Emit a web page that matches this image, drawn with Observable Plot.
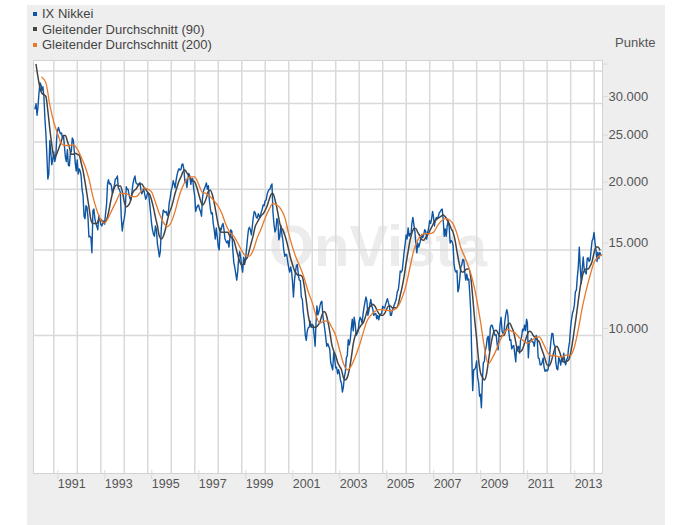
<!DOCTYPE html>
<html><head><meta charset="utf-8">
<script src="https://cdn.jsdelivr.net/npm/d3@7"></script>
<script src="https://cdn.jsdelivr.net/npm/@observablehq/plot@0.6"></script>
<style>
body{margin:0;background:#fff;font-family:"Liberation Sans",Arial,sans-serif;}
#wrap{position:relative;width:673px;height:525px;overflow:hidden}
#bg{position:absolute;left:27px;top:5px;width:638px;height:520px;background:#eeeeee;}
#legend{position:absolute;left:33px;top:6px;font-size:13px;color:#444;line-height:15.5px;}
.item{display:flex;align-items:center;white-space:nowrap}
.sw{width:4px;height:4px;margin-right:5px;display:inline-block}
#unit{position:absolute;left:615px;top:35px;font-size:13px;line-height:15px;color:#555}
#chart{position:absolute;left:0;top:0}
</style></head><body>
<div id="wrap"><div id="bg"></div><div id="chart"></div><div id="legend"></div><div id="unit">Punkte</div></div>
<script>
// Series names and colours
const seriesNames = ["IX Nikkei", "Gleitender Durchschnitt (90)", "Gleitender Durchschnitt (200)"];
const seriesColors = ["#0e56a4", "#444444", "#e8792b"];

// IX Nikkei: two readings per month (mid-month, month-end), starting March 1990
const nikkei = [
  29300,29980, 28400,29584, 31500,33131, 32800,31940, 32500,31035, 28000,25978, 23500,20983, 21500,25194, 23800,22454, 23000,23848,
  22800,23293, 25500,26409, 26800,26292, 26000,26111, 25500,25789, 24500,23290, 22800,24120, 22400,22335, 23800,23916, 25500,25222, 24000,22687, 21800,22983,
  21500,22023, 21800,21338, 20000,19345, 17600,17390, 18500,18348, 17500,15951, 16000,15910, 14800,18061, 18200,17399, 17000,16767, 16500,17684, 17400,16924,
  16800,17023, 17200,16953, 17800,18591, 20500,20919, 20500,20552, 20300,19590, 20000,20380, 21000,21027, 21300,20106, 20000,19703, 17500,16407, 17000,17417,
  18000,20229, 20000,19997, 19500,19111, 19000,19725, 20500,20974, 21300,20643, 20500,20449, 20500,20629, 20000,19564, 19800,19990, 19500,19076, 19300,19723,
  19500,18650, 17800,17053, 16500,16140, 16000,16807, 16500,15437, 15000,14517, 14900,16678, 17500,18117, 18000,17913, 18000,17655, 17800,18744, 19200,19868,
  20200,20813, 20500,20125, 20800,21407, 21800,22041, 21900,21956, 22500,22531, 22000,20693, 20900,20167, 21000,21556, 21300,20467, 21000,21020, 20000,19361,
  18000,18330, 18500,18557, 18200,18003, 17600,19151, 19800,20069, 20300,20605, 20000,20331, 19000,18229, 17800,17888, 17000,16459, 15800,16636, 16000,15259,
  15000,16628, 16500,16831, 17000,16527, 15800,15641, 15500,15671, 15200,15830, 16500,16379, 15000,14108, 13800,13406, 13000,13564, 14500,14884, 14500,13842,
  13500,14499, 14000,14367, 15000,15837, 16500,16701, 16500,16112, 16800,17530, 18000,17862, 17500,17437, 17800,17605, 17500,17942, 18200,18558, 18500,18934,
  19000,19540, 19800,19960, 20000,20337, 20500,17974, 17000,16332, 16500,17411, 17200,15727, 16000,16861, 16200,15747, 15000,14539, 14700,14649, 14200,13786,
  13500,13843, 13500,12884, 12000,12999, 13500,13934, 14000,13262, 13000,12969, 12000,11861, 11200,10713, 10000,9774, 10200,10366, 10400,10697, 10400,10543,
  10500,9997, 9500,10587, 11500,11025, 11200,11493, 11700,11764, 11000,10622, 10300,9877, 9500,9619, 9500,9383, 8800,8640, 8500,9216, 9000,8579,
  8600,8340, 8500,8363, 8100,7973, 7650,7831, 8200,8425, 9000,9083, 9800,9563, 9800,10344, 10800,10219, 10900,10560, 10000,10101, 10200,10677,
  10900,10784, 10600,11042, 11400,11715, 12000,11762, 11000,11236, 11600,11859, 11500,11326, 11000,11082, 11100,10824, 11000,10771, 11000,11069, 11100,11489,
  11400,11388, 11600,11741, 11900,11669, 11500,11009, 11000,11277, 11400,11584, 11700,11900, 12300,12414, 12900,13574, 13500,13607, 14200,14872, 15400,16111,
  15800,16650, 16000,16205, 16100,17060, 17500,16906, 16400,15467, 14800,15505, 15200,15457, 15800,16141, 15900,16128, 16500,16399, 15800,16274, 16600,17226,
  17000,17383, 18000,17604, 16800,17288, 17500,17400, 17600,17876, 18000,18138, 18200,17248, 16000,16569, 16000,16786, 17200,16737, 15500,15681, 15600,15308,
  14000,13592, 13500,13603, 12300,12526, 13200,13850, 14000,14339, 14300,13481, 13000,13377, 13000,13073, 12200,11260, 9200,7700, 8500,8512, 8600,8860,
  8200,7994, 7500,7568, 7100,8110, 8800,8828, 9300,9523, 9900,9958, 9300,10357, 10500,10493, 10300,10133, 10000,10034, 9600,9346, 10000,10546,
  10900,10198, 10100,10126, 10700,11090, 11300,11057, 10200,9769, 9800,9383, 9500,9537, 9200,8824, 9500,9369, 9500,9202, 9800,9937, 10300,10229,
  10500,10238, 10800,10624, 9000,9755, 9700,9849, 9700,9694, 9500,9816, 10000,9833, 9000,8955, 8700,8700, 8800,8988, 8600,8435, 8500,8455,
  8500,8803, 9300,9723, 10100,10084, 9600,9521, 8800,8543, 8500,9007, 8900,8695, 9000,8840, 9200,8870, 8700,8928, 9000,9446, 9700,10395,
  10800,11139, 11300,11559, 12300,12398, 13200,13861, 15200,13775, 12800,13677, 14500,13668, 13500,13389, 14400,14456, 14200,14328, 15000,15662, 15800,16291,
  15500,14915, 14200,14841, 14400,14828, 14600
];

// Gleitender Durchschnitt (90): month-end readings, starting March 1990
const ma90 = [
  36100,34000,32300,31500,31300,31000,29000,26600,24700,23400,
  23400,23900,24500,25200,25800,25800,25100,24400,23600,23600,23700,23600,
  23500,22700,21800,20700,19500,18400,17300,17000,17000,17000,17300,17350,
  17150,17100,17300,17900,18800,19600,20150,20400,20300,20300,19800,18850,
  18400,18500,18800,19500,19850,20000,20300,20500,20500,20200,20000,19700,
  19500,19000,18300,17500,16800,16000,15800,16000,16500,17200,17850,18300,
  18900,19600,20200,20800,21200,21700,21900,21600,21300,21000,20800,20700,
  20200,19600,18950,18550,18750,19200,19800,19900,19500,18700,17800,16900,
  16400,16300,16300,16300,16300,16000,15900,15700,15200,14650,14200,13960,
  14060,14300,14500,15000,15550,16100,16800,17100,17400,17650,17800,18100,
  18500,19000,19500,19600,19050,18300,17400,16700,16500,16100,15600,15000,
  14400,14000,13600,13400,13300,13300,13200,12600,11800,11000,10550,10400,
  10400,10400,10500,10650,11000,11200,11100,10700,10200,9600,9300,9100,
  8800,8650,8500,8200,8100,8200,8500,9000,9600,10000,10200,10350,
  10500,10600,10850,11200,11400,11500,11600,11500,11300,11100,11000,11000,
  11100,11300,11500,11500,11400,11400,11400,11600,12100,12600,13250,14100,
  14900,15650,16250,16600,16600,16300,16050,15750,15700,15900,16100,16400,
  16700,17000,17250,17400,17500,17600,17700,17550,17300,17000,16600,16300,
  15700,14900,14150,13600,13500,13600,13700,13700,13200,12000,10800,9850,
  8900,8400,8200,8100,8300,8800,9400,9900,10200,10250,10100,9950,
  10000,10000,10250,10550,10600,10400,10150,9700,9300,9250,9300,9500,
  9800,10050,10200,10150,10000,9900,9800,9700,9450,9200,8950,8700,
  8650,8800,9100,9400,9500,9350,9100,8850,8800,8850,8900,9200,
  9700,10300,11000,11800,12600,13200,13600,13700,13700,13900,14200,14800,
  15200,15200,15000
];

// Gleitender Durchschnitt (200): readings every second month-end, starting June 1990
const ma200 = [
  34000,33100,29800,27500,
  26050,24800,24600,24600,24700,24200,
  23300,22300,21000,19300,18100,17300,
  17050,17500,18200,18900,19600,19600,
  19500,19300,19300,19650,20100,20000,
  19750,18800,17800,17100,16750,17100,
  18000,19300,20300,21000,21200,21200,
  20500,19700,19600,19300,18900,18450,
  17800,16900,16300,16000,15500,14960,
  14600,14560,15000,15900,16600,17450,
  18150,18700,18550,18200,17500,16200,
  15200,14400,13800,13100,12300,11700,
  11000,10600,10700,10700,10400,10000,
  9370,8770,8500,8660,9030,9500,
  10100,10700,11000,11200,11300,11300,
  11260,11250,11300,11500,11970,12700,
  13800,15000,15700,16100,16200,16200,
  16300,16800,17200,17400,17300,16970,
  16200,15150,14500,13800,12970,11900,
  10700,9470,8740,8980,9330,9770,
  10100,10300,10200,10100,9880,9750,
  9640,9750,9900,9930,9640,9260,
  9080,9090,9040,9040,9120,9100,
  9470,10300,11400,12400,13300,14150,
  14500,14650
];

// Axis ticks
const yTickValues = [10000, 15000, 20000, 25000, 30000, 35000];
const yTickLabels = ["10.000", "15.000", "20.000", "25.000", "30.000", ""];
const xLabelYears = [1991, 1993, 1995, 1997, 1999, 2001, 2003, 2005, 2007, 2009, 2011, 2013];
const xGridYears = [1991,1992,1993,1994,1995,1996,1997,1998,1999,2000,2001,2002,2003,2004,2005,2006,2007,2008,2009,2010,2011,2012,2013,2014];

// Build tables
const nikkeiRows = nikkei.map((v, i) => {
  const m = 2 + Math.floor(i / 2);
  const date = i % 2 === 0 ? new Date(Date.UTC(1990, m, 15)) : new Date(Date.UTC(1990, m + 1, 0));
  return {date, value: v};
});
const ma90Rows = ma90.map((v, i) => ({date: new Date(Date.UTC(1990, 3 + i, 0)), value: v}));
const ma200Rows = ma200.map((v, i) => ({date: new Date(Date.UTC(1990, 6 + 2 * i, 0)), value: v}));
const yearDate = y => new Date(Date.UTC(y, 0, 1));
const labelMap = new Map(yTickValues.map((v, i) => [v, yTickLabels[i]]));

const grid = "#d9d9d9";
const chart = Plot.plot({
  width: 673,
  height: 525,
  marginLeft: 33,
  marginRight: 71,
  marginTop: 60,
  marginBottom: 52,
  style: {background: "transparent", fontFamily: "Liberation Sans, Arial, sans-serif"},
  x: {type: "utc", domain: [new Date(Date.UTC(1990, 1, 19)), new Date(Date.UTC(2014, 4, 11))]},
  y: {type: "log", domain: [5200, 36800]},
  marks: [
    Plot.frame({fill: "white", stroke: "#d2d2d2"}),
    Plot.text(["OnVista"], {frameAnchor: "middle", dx: 60, dy: -20, fontSize: 58, fontWeight: "bold", fill: "#ececec"}),
    Plot.gridY(yTickValues, {stroke: grid, strokeOpacity: 1, strokeWidth: 1.5}),
    Plot.gridX(xGridYears.map(yearDate), {stroke: grid, strokeOpacity: 1, strokeWidth: 1.5}),
    Plot.axisY(yTickValues, {anchor: "right", tickSize: 5, tickPadding: 1, stroke: grid, fill: "#555", fontSize: 13, dy: -7, tickFormat: v => labelMap.get(v), label: null}),
    Plot.axisX(xLabelYears.map(yearDate), {anchor: "bottom", tickSize: 9, tickPadding: 0, stroke: grid, fill: "#555", fontSize: 12.5, textAnchor: "start", dx: 4, dy: -3, tickFormat: d => String(d.getUTCFullYear()), label: null}),
    Plot.line(nikkeiRows, {x: "date", y: "value", stroke: seriesColors[0], strokeWidth: 1.4}),
    Plot.line(ma90Rows, {x: "date", y: "value", stroke: seriesColors[1], strokeWidth: 1.5, curve: "monotone-x"}),
    Plot.line(ma200Rows, {x: "date", y: "value", stroke: seriesColors[2], strokeWidth: 1.3, curve: "monotone-x"})
  ]
});
document.getElementById("chart").appendChild(chart);

const legend = document.getElementById("legend");
seriesNames.forEach((name, i) => {
  const item = document.createElement("div");
  item.className = "item";
  const sw = document.createElement("span");
  sw.className = "sw";
  sw.style.background = seriesColors[i];
  item.appendChild(sw);
  item.appendChild(document.createTextNode(name));
  legend.appendChild(item);
});
</script>
</body></html>
